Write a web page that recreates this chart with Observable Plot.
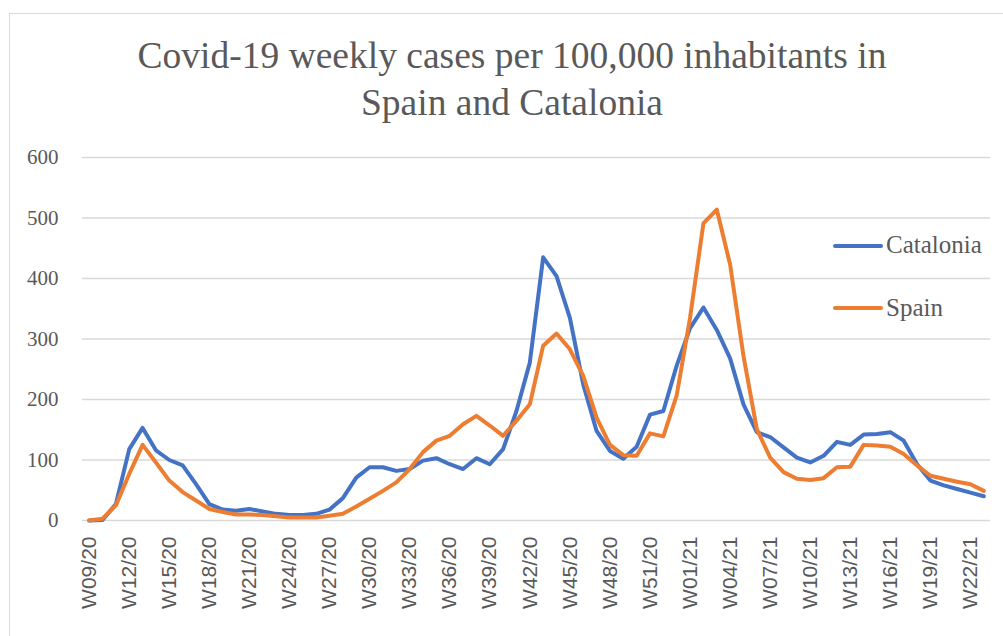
<!DOCTYPE html>
<html>
<head>
<meta charset="utf-8">
<script src="https://cdn.jsdelivr.net/npm/d3@7"></script>
<script src="https://cdn.jsdelivr.net/npm/@observablehq/plot@0.6"></script>
<style>
  html, body { margin: 0; padding: 0; background: #fff; }
  #wrap { position: relative; width: 1003px; height: 636px; overflow: hidden; background: #fff; }
  #frame { position: absolute; left: 9px; top: 13px; width: 1100px; height: 800px; border: 1px solid #d9d9d9; box-sizing: border-box; }
  #title { position: absolute; left: 0; top: 32px; width: 1024px; text-align: center;
           font-family: "Liberation Serif", "DejaVu Serif", serif; font-size: 37.5px; line-height: 47px; color: #595959; }
  #chart { position: absolute; left: 0; top: 140px; }
  .lg-line { position: absolute; height: 4px; width: 50px; border-radius: 2px; }
  .lg-text { position: absolute; font-family: "Liberation Serif", serif; font-size: 25px; line-height: 24px; color: #595959; white-space: nowrap; }
</style>
</head>
<body>
<div id="wrap">
  <div id="frame"></div>
  <div id="title">Covid-19 weekly cases per 100,000 inhabitants in<br>Spain and Catalonia</div>
  <div id="chart"></div>
  <div id="legend"></div>
</div>
<script>
const weeks = [
  "W09/20","W10/20","W11/20","W12/20","W13/20","W14/20","W15/20","W16/20","W17/20","W18/20",
  "W19/20","W20/20","W21/20","W22/20","W23/20","W24/20","W25/20","W26/20","W27/20","W28/20",
  "W29/20","W30/20","W31/20","W32/20","W33/20","W34/20","W35/20","W36/20","W37/20","W38/20",
  "W39/20","W40/20","W41/20","W42/20","W43/20","W44/20","W45/20","W46/20","W47/20","W48/20",
  "W49/20","W50/20","W51/20","W52/20","W53/20","W01/21","W02/21","W03/21","W04/21","W05/21",
  "W06/21","W07/21","W08/21","W09/21","W10/21","W11/21","W12/21","W13/21","W14/21","W15/21",
  "W16/21","W17/21","W18/21","W19/21","W20/21","W21/21","W22/21","W23/21"
];
const catalonia = [
  0, 1, 27, 118, 153, 116, 100, 91, 60, 27,
  18, 16, 19, 15, 11, 9, 9, 11, 18, 37,
  71, 88, 88, 82, 85, 99, 103, 93, 85, 103,
  93, 118, 181, 261, 435, 404, 335, 225, 148, 115,
  102, 122, 175, 181, 256, 318, 352, 315, 268, 192,
  146, 138, 121, 104, 96, 107, 130, 125, 142, 143,
  146, 132, 93, 66, 58, 52, 46, 40
];
const spain = [
  0, 3, 25, 77, 125, 96, 66, 47, 33, 19,
  14, 10, 10, 9, 7, 5, 5, 5, 8, 11,
  23, 36, 49, 63, 85, 113, 132, 140, 159, 173,
  157, 140, 165, 192, 289, 309, 283, 239, 170, 125,
  108, 107, 144, 139, 207, 335, 491, 514, 423, 272,
  151, 104, 80, 69, 67, 70, 88, 89, 125, 124,
  122, 110, 91, 74, 69, 64, 60, 49
];
const seriesNames = ["Catalonia", "Spain"];
const seriesColors = ["#4472C4", "#ED7D31"];
const yTicks = [0, 100, 200, 300, 400, 500, 600];
const xTickLabels = weeks.filter((w, i) => i % 3 === 0);

const rows = [];
weeks.forEach((w, i) => rows.push({week: w, series: "Catalonia", value: catalonia[i]}));
weeks.forEach((w, i) => rows.push({week: w, series: "Spain", value: spain[i]}));

const chart = Plot.plot({
  width: 1003,
  height: 496,
  marginLeft: 82,
  marginRight: 13,
  marginTop: 17,
  marginBottom: 116,
  style: {fontFamily: "'Liberation Serif', serif", color: "#595959", background: "transparent", overflow: "visible"},
  x: {type: "point", domain: weeks, padding: 0.5, round: false},
  y: {domain: [0, 600]},
  color: {domain: seriesNames, range: seriesColors},
  marks: [
    Plot.gridY(yTicks, {stroke: "#d9d9d9", strokeOpacity: 1, strokeWidth: 1.4}),
    Plot.axisY(yTicks, {tickSize: 0, tickPadding: 24, fontSize: 21, fill: "#595959", label: null, fontFamily: "'Liberation Serif', serif"}),
    Plot.axisX(xTickLabels, {tickSize: 0, tickRotate: -90, tickPadding: 16, fontSize: 21, fill: "#595959", label: null, fontFamily: "'Liberation Sans', sans-serif"}),
    Plot.line(rows, {x: "week", y: "value", z: "series", stroke: "series", strokeWidth: 4, strokeLinejoin: "round", strokeLinecap: "round"})
  ]
});
document.getElementById("chart").appendChild(chart);

// legend
const legend = document.getElementById("legend");
const legendPos = [{line: 244, text: 233}, {line: 306, text: 296}];
seriesNames.forEach((name, i) => {
  const l = document.createElement("div");
  l.className = "lg-line";
  l.style.left = "833px";
  l.style.top = legendPos[i].line + "px";
  l.style.background = seriesColors[i];
  legend.appendChild(l);
  const t = document.createElement("div");
  t.className = "lg-text";
  t.style.left = "886px";
  t.style.top = legendPos[i].text + "px";
  t.textContent = name;
  legend.appendChild(t);
});
</script>
</body>
</html>
